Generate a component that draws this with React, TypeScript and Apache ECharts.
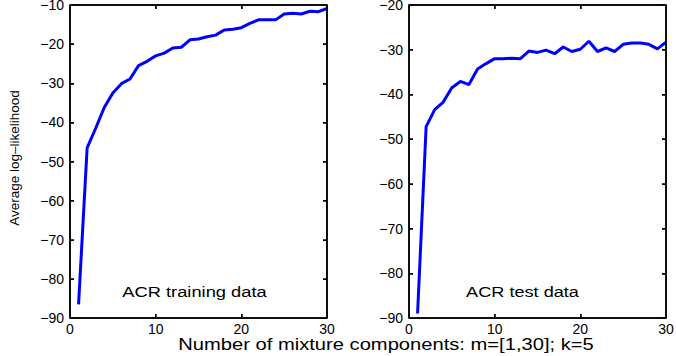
import React, { useEffect, useRef } from "react";
import * as echarts from "echarts";

const components = [1, 2, 3, 4, 5, 6, 7, 8, 9, 10, 11, 12, 13, 14, 15, 16, 17, 18, 19, 20, 21, 22, 23, 24, 25, 26, 27, 28, 29, 30];
const trainLL = [-86.5, -46.5, -41.5, -36.2, -32.5, -30.1, -28.9, -25.5, -24.4, -23.0, -22.3, -21.0, -20.8, -18.9, -18.7, -18.1, -17.7, -16.4, -16.2, -15.8, -14.7, -13.8, -13.8, -13.8, -12.3, -12.1, -12.3, -11.6, -11.7, -10.9];
const testLL = [-89.0, -47.2, -43.4, -41.7, -38.5, -37.1, -37.8, -34.3, -33.1, -32.0, -32.0, -31.9, -32.0, -30.3, -30.6, -30.1, -30.9, -29.4, -30.4, -29.9, -28.1, -30.4, -29.6, -30.4, -28.8, -28.5, -28.5, -28.8, -29.8, -28.3];

const xRange = [0, 30];
const yRangeTrain = [-90, -10];
const yRangeTest = [-90, -20];
const xTicks = [10, 20];
const yTicksTrain = [-80, -70, -60, -50, -40, -30, -20];
const yTicksTest = [-80, -70, -60, -50, -40, -30];

const yLabel = "Average log\u2013likelihood";
const xLabel = "Number of mixture components: m=[1,30]; k=5";
const trainTitle = "ACR training data";
const testTitle = "ACR test data";

const FONT = "Liberation Sans";

export default function App() {
  const ref = useRef<HTMLDivElement>(null);
  useEffect(() => {
    if (!ref.current) return;
    const chart = echarts.init(ref.current, null, { renderer: "svg" });
    const fmt = (v: number) => String(v).replace("-", "\u2212");
    const mkX = (gi: number, pos: string) => ({
      type: "value",
      gridIndex: gi,
      position: pos,
      min: xRange[0],
      max: xRange[1],
      interval: 10,
      axisLine: { show: true, onZero: false, lineStyle: { color: "#000", width: 1.5 } },
      axisTick: { show: true, inside: true, length: 4, lineStyle: { color: "#000", width: 1 } },
      splitLine: { show: false },
      axisLabel: { show: pos === "bottom", color: "#000", fontSize: 14, margin: 4, formatter: fmt },
    });
    const mkY = (gi: number, pos: string, r: number[]) => ({
      type: "value",
      gridIndex: gi,
      position: pos,
      min: r[0],
      max: r[1],
      interval: 10,
      axisLine: { show: true, onZero: false, lineStyle: { color: "#000", width: 1.5 } },
      axisTick: { show: true, inside: true, length: 4, lineStyle: { color: "#000", width: 1 } },
      splitLine: { show: false },
      axisLabel: { show: pos === "left", color: "#000", fontSize: 14, margin: 6, formatter: fmt },
    });
    // frame + inside ticks drawn as markLines (data space)
    const frame = (r: number[], yTicks: number[], yTickLen: number) => {
      const xTickLen = 0.47;
      const seg = (a: number[], b: number[]) => [{ coord: a }, { coord: b }];
      const data: any[] = [
        { xAxis: xRange[0] },
        { xAxis: xRange[1] },
        { yAxis: r[0] },
        { yAxis: r[1] },
      ];
      xTicks.forEach((t) => {
        data.push(seg([t, r[0]], [t, r[0] + yTickLen]));
        data.push(seg([t, r[1]], [t, r[1] - yTickLen]));
      });
      yTicks.forEach((t) => {
        data.push(seg([xRange[0], t], [xRange[0] + xTickLen, t]));
        data.push(seg([xRange[1], t], [xRange[1] - xTickLen, t]));
      });
      return {
        silent: true,
        symbol: ["none", "none"],
        label: { show: false },
        lineStyle: { color: "#000", width: 1.5, type: "solid" },
        emphasis: { disabled: true },
        animation: false,
        data,
      };
    };
    chart.setOption({
      animation: false,
      textStyle: { fontFamily: FONT },
      grid: [
        { left: 70, right: 349, top: 5, bottom: 38, outerBoundsMode: "none", containLabel: false },
        { left: 409, right: 10, top: 5, bottom: 38, outerBoundsMode: "none", containLabel: false },
      ],
      xAxis: [mkX(0, "bottom"), mkX(0, "top"), mkX(1, "bottom"), mkX(1, "top")],
      yAxis: [
        mkY(0, "left", yRangeTrain),
        mkY(0, "right", yRangeTrain),
        mkY(1, "left", yRangeTest),
        mkY(1, "right", yRangeTest),
      ],
      series: [
        {
          type: "line",
          xAxisIndex: 0,
          yAxisIndex: 0,
          data: components.map((c, i) => [c, trainLL[i]]),
          showSymbol: false,
          lineStyle: { color: "#0000ff", width: 3 },
          markLine: frame(yRangeTrain, yTicksTrain, 1.0),
        },
        {
          type: "line",
          xAxisIndex: 2,
          yAxisIndex: 2,
          data: components.map((c, i) => [c, testLL[i]]),
          showSymbol: false,
          lineStyle: { color: "#0000ff", width: 3 },
          markLine: frame(yRangeTest, yTicksTest, 0.9),
        },
      ],
      graphic: [
        {
          type: "text",
          x: 14,
          y: 158,
          rotation: Math.PI / 2,
          style: { text: yLabel, fontFamily: FONT, fontSize: 13.5, fill: "#000", align: "center", verticalAlign: "middle" },
        },
        {
          type: "text",
          x: 386,
          y: 345,
          scaleX: 1.26,
          style: { text: xLabel, fontFamily: FONT, fontSize: 16, fill: "#000", align: "center", verticalAlign: "middle" },
        },
        {
          type: "text",
          x: 194.5,
          y: 292,
          scaleX: 1.22,
          style: { text: trainTitle, fontFamily: FONT, fontSize: 15, fill: "#000", align: "center", verticalAlign: "middle" },
        },
        {
          type: "text",
          x: 522.5,
          y: 292,
          scaleX: 1.21,
          style: { text: testTitle, fontFamily: FONT, fontSize: 15, fill: "#000", align: "center", verticalAlign: "middle" },
        },
      ],
    });
    return () => chart.dispose();
  }, []);
  return <div ref={ref} style={{ position: "absolute", left: 0, top: 0, width: 676, height: 356 }} />;
}
